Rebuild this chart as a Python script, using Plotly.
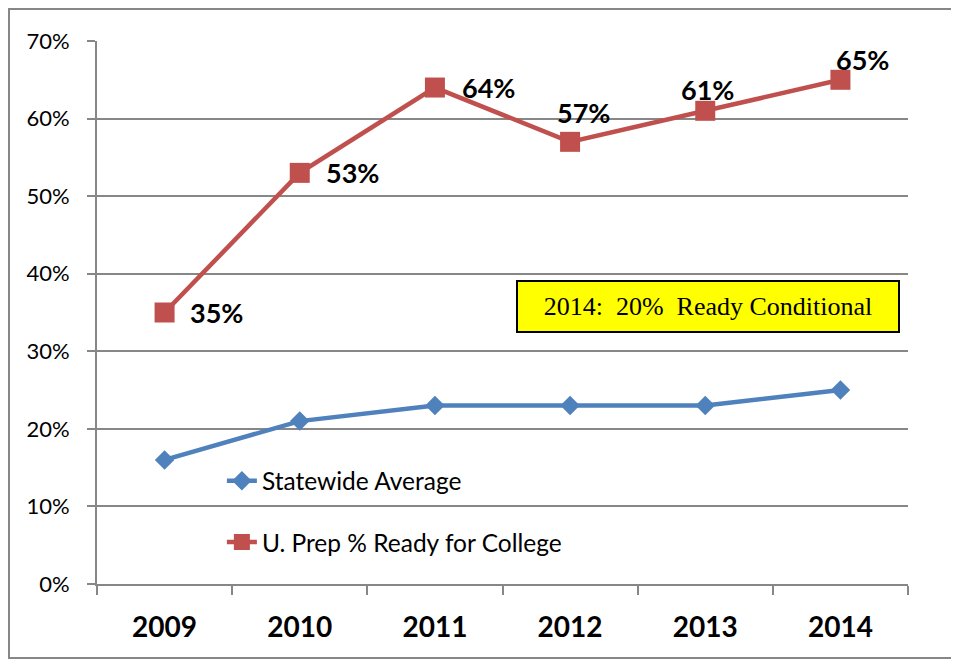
import plotly.graph_objects as go

years = ["2009", "2010", "2011", "2012", "2013", "2014"]
statewide = [16, 21, 23, 23, 23, 25]
uprep = [35, 53, 64, 57, 61, 65]
name_state = "Statewide Average"
name_uprep = "U. Prep % Ready for College"
note_text = "2014:\u00a0 20%\u00a0 Ready Conditional"

BLUE = "#4F81BD"
RED = "#C0504D"
GRID = "#878787"

fig = go.Figure()
fig.add_trace(go.Scatter(
    x=years, y=statewide, name=name_state, mode="lines+markers",
    line=dict(color=BLUE, width=4.5),
    marker=dict(symbol="diamond", size=15, color=BLUE),
    legend="legend", showlegend=True,
))
fig.add_trace(go.Scatter(
    x=years, y=uprep, name=name_uprep, mode="lines+markers",
    line=dict(color=RED, width=4.5),
    marker=dict(symbol="square", size=20, color=RED),
    legend="legend2", showlegend=True,
))

# data labels for the red series
shifts = [(52, 0), (53, 0), (54, 0), (13, 29), (2, 21), (22, 20)]
for i, (v, (dx, dy)) in enumerate(zip(uprep, shifts)):
    fig.add_annotation(
        x=i, y=v, xref="x", yref="y", text=f"{v}%", showarrow=False,
        xshift=dx, yshift=dy,
        font=dict(family="Lato", size=27, color="black", weight="bold"),
    )

# yellow note box
fig.add_annotation(
    x=0.7534, y=0.511, xref="paper", yref="paper", text=note_text,
    showarrow=False, xanchor="center", yanchor="middle",
    width=380, height=49, align="center",
    bgcolor="#FFFF00", bordercolor="black", borderwidth=2, borderpad=0,
    font=dict(family="Liberation Serif", size=26, color="black"),
)

# outer chart border
fig.add_shape(
    type="rect", xref="paper", yref="paper",
    x0=-0.1085, x1=1.3, y0=-0.1363, y1=1.059,
    line=dict(color=GRID, width=2), fillcolor="rgba(0,0,0,0)", layer="below",
)

fig.update_layout(
    width=951, height=652,
    margin=dict(l=89, r=51, t=33, b=76, autoexpand=False),
    paper_bgcolor="white", plot_bgcolor="white",
    showlegend=True,
    font=dict(family="Lato", color="black"),
    legend=dict(
        x=0.154, y=0.19, xanchor="left", yanchor="middle",
        bgcolor="rgba(0,0,0,0)", font=dict(size=24.5, family="Lato"),
    ),
    legend2=dict(
        x=0.154, y=0.077, xanchor="left", yanchor="middle",
        bgcolor="rgba(0,0,0,0)", font=dict(size=24.5, family="Lato"),
    ),
    xaxis=dict(
        type="category", range=[-0.5, 5.5], automargin=False,
        showgrid=False, zeroline=False,
        showline=True, linecolor=GRID, linewidth=2,
        ticks="outside", tickson="boundaries", ticklen=9, tickwidth=2, tickcolor=GRID,
        tickfont=dict(family="Lato", size=28, color="black", weight="bold"),
        ticklabelstandoff=17,
    ),
    yaxis=dict(
        range=[0, 70], dtick=10, ticksuffix="%", automargin=False,
        showgrid=True, gridcolor=GRID, gridwidth=2,
        zeroline=False,
        showline=True, linecolor=GRID, linewidth=2,
        ticks="outside", ticklen=8, tickwidth=2, tickcolor=GRID,
        tickfont=dict(family="Lato", size=22, color="black"),
        ticklabelstandoff=13,
    ),
)

fig.write_html("out.html")
